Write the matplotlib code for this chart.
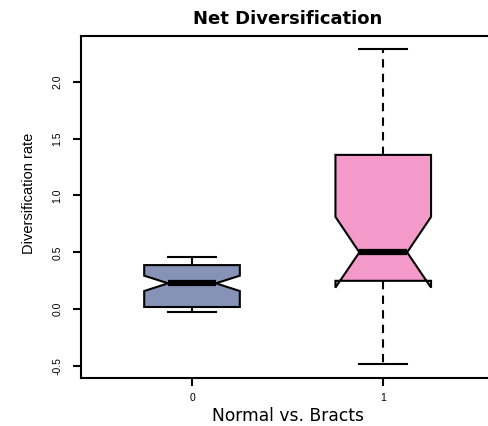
import matplotlib
matplotlib.use("Agg")
import matplotlib.pyplot as plt

plt.rcParams["font.family"] = ["Liberation Sans", "DejaVu Sans"]

# Values
groups = ["0", "1"]
whislo = [-0.02, -0.48]
q1 = [0.02, 0.25]
med = [0.228, 0.50]
q3 = [0.388, 1.356]
whishi = [0.462, 2.287]
ci_lo = [0.16, 0.19]
ci_hi = [0.295, 0.812]
box_colors = ["#8793B6", "#F49ACB"]

stats = []
for i, g in enumerate(groups):
    stats.append({
        "label": g, "whislo": whislo[i], "q1": q1[i], "med": med[i],
        "q3": q3[i], "whishi": whishi[i], "cilo": ci_lo[i], "cihi": ci_hi[i],
        "fliers": [],
    })

fig = plt.figure(figsize=(4.88, 4.26), dpi=100)
ax = fig.add_axes([0.1654, 0.1134, 0.848, 0.802])

bp = ax.bxp(stats, positions=[0, 1], widths=0.5, shownotches=True,
            patch_artist=True, showfliers=False, capwidths=0.25,
            boxprops=dict(linewidth=1.5, edgecolor="black"),
            whiskerprops=dict(linewidth=1.5, linestyle=(0, (4, 3))),
            capprops=dict(linewidth=1.5),
            medianprops=dict(linewidth=4.5, color="black", solid_capstyle="butt"))
for patch, c in zip(bp["boxes"], box_colors):
    patch.set_facecolor(c)

ax.set_xlim(-0.582, 1.582)
ax.set_ylim(-0.601, 2.40)
ax.set_yticks([-0.5, 0.0, 0.5, 1.0, 1.5, 2.0])
ax.set_yticklabels(["-0.5", "0.0", "0.5", "1.0", "1.5", "2.0"], rotation=90, va="center")
ax.set_xticks([0, 1])
ax.set_xticklabels(groups)
ax.tick_params(labelsize=7.5, width=1.5, length=6)
ax.tick_params(axis="y", pad=7)
ax.tick_params(axis="x", pad=5)

for side in ["left", "bottom", "top", "right"]:
    ax.spines[side].set_linewidth(1.5)

ax.set_title("Net Diversification", fontsize=13, fontweight="bold", pad=9,
             family="DejaVu Sans")
ax.set_xlabel("Normal vs. Bracts", fontsize=12.3, labelpad=3, family="DejaVu Sans")
ax.set_ylabel("Diversification rate", fontsize=10.5)
ax.yaxis.set_label_coords(-0.108, 0.539)

fig.savefig("out.png", dpi=100)
